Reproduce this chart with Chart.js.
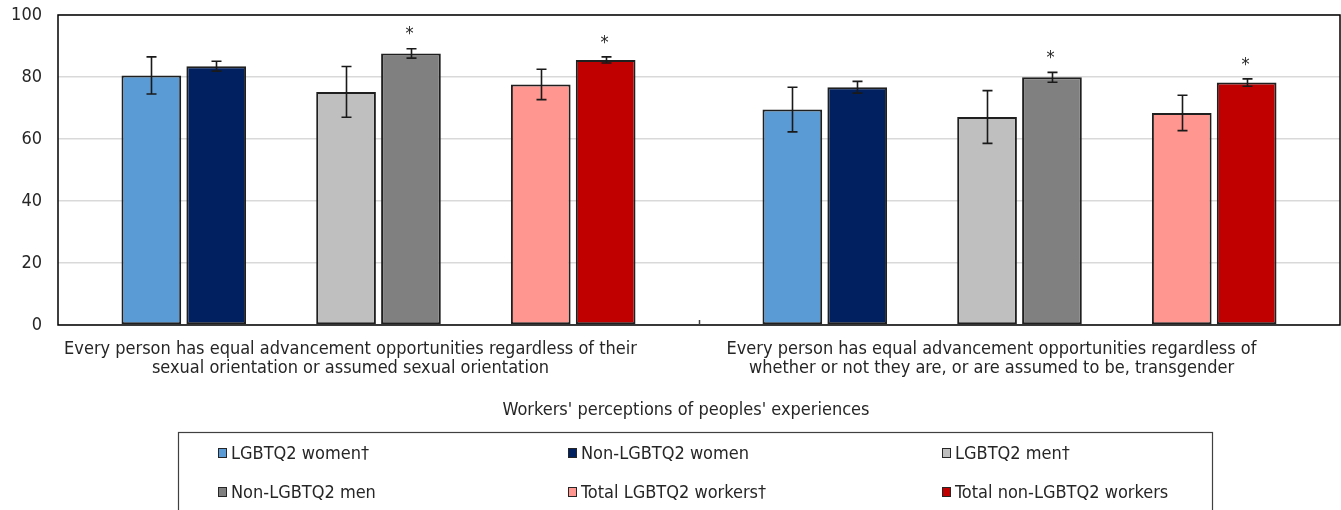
<!DOCTYPE html>
<html>
<head>
<meta charset="utf-8">
<script src="https://cdn.jsdelivr.net/npm/chart.js@4.4.1/dist/chart.umd.min.js"></script>
<style>
  html, body { margin: 0; padding: 0; background: #fff; }
  canvas { display: block; }
</style>
</head>
<body>
<canvas id="chart" width="1341" height="510"></canvas>
<script>
const categories = [
  ['Every person has equal advancement opportunities regardless of their', 'sexual orientation or assumed sexual orientation'],
  ['Every person has equal advancement opportunities regardless of', 'whether or not they are, or are assumed to be, transgender']
];
const seriesNames = ['LGBTQ2 women\u2020', 'Non-LGBTQ2 women', 'LGBTQ2 men\u2020', 'Non-LGBTQ2 men', 'Total LGBTQ2 workers\u2020', 'Total non-LGBTQ2 workers'];
const seriesColors = ['#5B9BD5', '#002060', '#BFBFBF', '#808080', '#FF968F', '#C00000'];

// percentages per category
const lgbtqWomen = [80.5, 69.5];
const nonLgbtqWomen = [83.5, 76.7];
const lgbtqMen = [75.2, 67.1];
const nonLgbtqMen = [87.6, 79.9];
const totalLgbtq = [77.6, 68.4];
const totalNonLgbtq = [85.5, 78.2];

// half-widths of the confidence intervals
const errLgbtqWomen = [6.0, 7.2];
const errNonLgbtqWomen = [1.6, 1.9];
const errLgbtqMen = [8.2, 8.5];
const errNonLgbtqMen = [1.5, 1.6];
const errTotalLgbtq = [4.9, 5.7];
const errTotalNonLgbtq = [1.0, 1.2];

// statistically significant difference markers
const sigNonLgbtqMen = [true, true];
const sigTotalNonLgbtq = [true, true];

const yTicks = [0, 20, 40, 60, 80, 100];
const axisTitle = "Workers' perceptions of peoples' experiences";

const FONT = '"Liberation Sans Narrow", "DejaVu Sans Condensed", "Liberation Sans", sans-serif';
const TEXT = '#262626';

function bars(i, data, err, sig) {
  return {
    label: seriesNames[i],
    data: data,
    err: err,
    sig: sig || null,
    backgroundColor: seriesColors[i],
    borderColor: '#1f1f1f',
    borderWidth: 2,
    borderSkipped: false
  };
}

// empty slot between each pair of bars
function spacer() {
  return { label: '', data: [null, null], spacer: true };
}

const datasets = [
  bars(0, lgbtqWomen, errLgbtqWomen),
  bars(1, nonLgbtqWomen, errNonLgbtqWomen),
  spacer(),
  bars(2, lgbtqMen, errLgbtqMen),
  bars(3, nonLgbtqMen, errNonLgbtqMen, sigNonLgbtqMen),
  spacer(),
  bars(4, totalLgbtq, errTotalLgbtq),
  bars(5, totalNonLgbtq, errTotalNonLgbtq, sigTotalNonLgbtq)
];

// plot frame plus the small tick between the two categories
const framePlugin = {
  id: 'frame',
  beforeDatasetsDraw(chart) {
    const { ctx, chartArea: a, scales } = chart;
    ctx.save();
    ctx.strokeStyle = '#000';
    ctx.lineWidth = 1.5;
    ctx.strokeRect(a.left, a.top, a.right - a.left, a.bottom - a.top);
    const mid = (scales.x.getPixelForValue(0) + scales.x.getPixelForValue(1)) / 2;
    ctx.strokeStyle = '#404040';
    ctx.beginPath();
    ctx.moveTo(Math.round(mid) + 0.5, a.bottom);
    ctx.lineTo(Math.round(mid) + 0.5, a.bottom - 5);
    ctx.stroke();
    ctx.restore();
  }
};

const errorBarPlugin = {
  id: 'errorBars',
  afterDatasetsDraw(chart) {
    const { ctx, scales } = chart;
    ctx.save();
    chart.data.datasets.forEach((ds, di) => {
      if (ds.spacer) return;
      const meta = chart.getDatasetMeta(di);
      meta.data.forEach((bar, i) => {
        const v = ds.data[i];
        const e = ds.err[i];
        const top = scales.y.getPixelForValue(v + e);
        const bot = scales.y.getPixelForValue(v - e);
        const x = Math.round(bar.x) + 0.5;
        ctx.strokeStyle = '#1a1a1a';
        ctx.lineWidth = 1.6;
        ctx.beginPath();
        ctx.moveTo(x, top); ctx.lineTo(x, bot);
        ctx.moveTo(x - 5, top); ctx.lineTo(x + 5, top);
        ctx.moveTo(x - 5, bot); ctx.lineTo(x + 5, bot);
        ctx.stroke();
        if (ds.sig && ds.sig[i]) {
          ctx.fillStyle = TEXT;
          ctx.font = '18px ' + FONT;
          ctx.textAlign = 'center';
          ctx.textBaseline = 'middle';
          ctx.fillText('*', x - 2, top - 14);
        }
      });
    });
    ctx.restore();
  }
};

// axis title and boxed three-column legend below the plot
const legendPlugin = {
  id: 'boxLegend',
  afterDraw(chart) {
    const { ctx } = chart;
    ctx.save();
    ctx.fillStyle = TEXT;
    ctx.font = '18px ' + FONT;
    ctx.textAlign = 'center';
    ctx.textBaseline = 'middle';
    ctx.fillText(axisTitle, 686, 410);

    ctx.strokeStyle = '#404040';
    ctx.lineWidth = 1.2;
    ctx.strokeRect(178.5, 432.5, 1034, 100);

    const cols = [218, 568, 942];
    const rows = [453, 492];
    ctx.textAlign = 'left';
    seriesNames.forEach((name, i) => {
      const x = cols[i % 3];
      const y = rows[Math.floor(i / 3)];
      ctx.fillStyle = seriesColors[i];
      ctx.fillRect(x, y - 5, 9, 10);
      ctx.strokeStyle = '#262626';
      ctx.lineWidth = 1;
      ctx.strokeRect(x + 0.5, y - 4.5, 8, 9);
      ctx.fillStyle = TEXT;
      ctx.fillText(name, x + 13, y + 1);
    });
    ctx.restore();
  }
};

new Chart(document.getElementById('chart'), {
  type: 'bar',
  data: { labels: categories, datasets: datasets },
  options: {
    responsive: false,
    animation: false,
    layout: { padding: { top: 15, right: 1, left: 0, bottom: 0 } },
    categoryPercentage: 0.81,
    barPercentage: 0.92,
    plugins: {
      legend: { display: false },
      tooltip: { enabled: false }
    },
    scales: {
      x: {
        grid: { display: false },
        border: { display: false },
        ticks: {
          color: TEXT,
          font: { family: FONT, size: 18, lineHeight: 1.06 },
          padding: 7,
          labelOffset: -28,
          maxRotation: 0,
          autoSkip: false
        },
        afterFit(scale) {
          scale.height = 185;
          scale.paddingLeft = 0;
          scale.paddingRight = 0;
        }
      },
      y: {
        min: 0,
        max: 100,
        afterBuildTicks(scale) { scale.ticks = yTicks.map(v => ({ value: v })); },
        grid: { color: '#d9d9d9', lineWidth: 1.5, drawTicks: false },
        border: { display: false },
        ticks: {
          color: TEXT,
          font: { family: FONT, size: 18 },
          padding: 16
        },
        afterFit(scale) {
          scale.width = 58;
          scale.paddingTop = 0;
          scale.paddingBottom = 0;
        }
      }
    }
  },
  plugins: [framePlugin, errorBarPlugin, legendPlugin]
});
</script>
</body>
</html>
